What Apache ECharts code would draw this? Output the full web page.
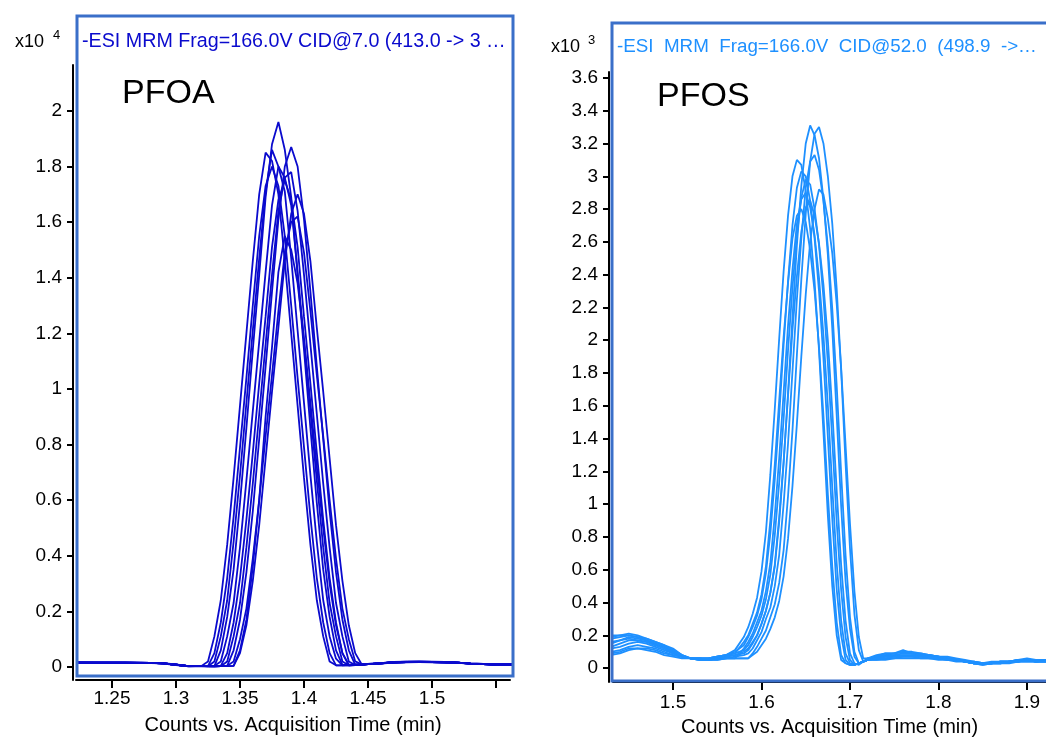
<!DOCTYPE html>
<html><head><meta charset="utf-8">
<script src="https://cdn.jsdelivr.net/npm/echarts@6/dist/echarts.min.js"></script>
<style>html,body{margin:0;padding:0;background:#fff}#c{width:1046px;height:742px}</style>
</head><body><div id="c"></div>
<script>
// ---------- PFOA (left), values in x10^4 counts ----------
const T_PFOA = [1.222,1.24,1.26,1.28,1.29,1.30,1.31,1.32,1.325,1.33,1.335,1.34,1.345,1.35,1.355,1.36,1.365,1.37,1.375,1.38,1.385,1.39,1.395,1.40,1.405,1.41,1.415,1.42,1.425,1.43,1.435,1.44,1.445,1.45,1.46,1.47,1.48,1.49,1.50,1.51,1.52,1.53,1.54,1.55,1.565];
const PFOA_1 = [0.016,0.016,0.015,0.015,0.013,0.008,0.003,0.004, 0.003,0.02,0.11,0.24,0.45,0.69,0.95,1.21,1.47,1.71,1.86,1.80,1.71,1.47,1.21,0.95,0.69,0.45,0.24,0.11,0.03,0.006,0.006,0.007,0.008, 0.010,0.013,0.017,0.018,0.018,0.018,0.017,0.016,0.012,0.010,0.009,0.009];
const PFOA_2 = [0.016,0.016,0.016,0.015,0.013,0.008,0.003,0.004, 0.002,0.003,0.06,0.18,0.35,0.59,0.86,1.14,1.41,1.69,1.88,1.96,1.86,1.69,1.41,1.14,0.86,0.59,0.35,0.18,0.06,0.008,0.006,0.007,0.008, 0.011,0.014,0.018,0.019,0.019,0.018,0.017,0.015,0.012,0.010,0.009,0.008];
const PFOA_3 = [0.015,0.016,0.016,0.015,0.012,0.007,0.002,0.004, 0.003,0.004,0.02,0.11,0.23,0.43,0.67,0.92,1.17,1.42,1.66,1.80,1.76,1.66,1.42,1.17,0.92,0.67,0.43,0.23,0.11,0.02,0.006,0.007,0.009, 0.010,0.013,0.016,0.018,0.019,0.018,0.018,0.016,0.013,0.011,0.009,0.009];
const PFOA_4 = [0.016,0.015,0.016,0.014,0.013,0.008,0.003,0.003, 0.002,0.003,0.004,0.05,0.16,0.32,0.53,0.77,1.02,1.26,1.51,1.68,1.75,1.68,1.51,1.26,1.02,0.77,0.53,0.32,0.16,0.05,0.006,0.008,0.009, 0.010,0.012,0.016,0.017,0.018,0.018,0.017,0.016,0.012,0.010,0.008,0.008];
const PFOA_5 = [0.017,0.016,0.016,0.015,0.014,0.009,0.003,0.004, 0.003,0.002,0.003,0.004,0.06,0.17,0.34,0.56,0.82,1.08,1.35,1.61,1.80,1.87,1.80,1.61,1.35,1.08,0.82,0.56,0.34,0.17,0.06,0.008,0.009, 0.011,0.014,0.017,0.019,0.019,0.019,0.018,0.016,0.013,0.011,0.009,0.009];
const PFOA_6 = [0.016,0.016,0.015,0.015,0.013,0.008,0.002,0.003, 0.002,0.003,0.003,0.02,0.11,0.23,0.43,0.66,0.91,1.16,1.41,1.64,1.76,1.78,1.64,1.41,1.16,0.91,0.66,0.43,0.23,0.11,0.02,0.007,0.008, 0.010,0.013,0.017,0.018,0.018,0.017,0.017,0.015,0.012,0.010,0.009,0.008];
const PFOA_7 = [0.015,0.015,0.016,0.015,0.013,0.008,0.003,0.004, 0.02,0.11,0.24,0.44,0.68,0.94,1.20,1.46,1.70,1.85,1.82,1.70,1.46,1.20,0.94,0.68,0.44,0.24,0.11,0.02,0.006,0.006,0.007,0.008,0.009, 0.010,0.013,0.016,0.018,0.018,0.018,0.017,0.016,0.012,0.010,0.009,0.009];
const PFOA_8 = [0.016,0.016,0.016,0.015,0.013,0.008,0.003,0.004, 0.003,0.002,0.003,0.003,0.004,0.05,0.15,0.31,0.51,0.75,0.99,1.22,1.46,1.63,1.70,1.63,1.46,1.22,0.99,0.75,0.51,0.31,0.15,0.05,0.01, 0.010,0.013,0.017,0.018,0.019,0.018,0.017,0.016,0.012,0.010,0.009,0.009];
const PFOA_9 = [0.016,0.016,0.016,0.015,0.013,0.008,0.003,0.004, 0.003,0.05,0.16,0.32,0.54,0.79,1.04,1.30,1.55,1.73,1.80,1.73,1.55,1.30,1.04,0.79,0.54,0.32,0.16,0.05,0.006,0.006,0.007,0.008,0.009, 0.010,0.013,0.017,0.018,0.018,0.018,0.017,0.016,0.012,0.010,0.009,0.009];
const PFOA_10 = [0.016,0.016,0.015,0.015,0.013,0.008,0.003,0.004, 0.003,0.002,0.003,0.004,0.02,0.10,0.21,0.39,0.60,0.83,1.05,1.28,1.49,1.60,1.62,1.49,1.28,1.05,0.83,0.60,0.39,0.21,0.10,0.02,0.01, 0.010,0.013,0.017,0.018,0.018,0.018,0.017,0.016,0.012,0.010,0.009,0.009];
const PFOA_11 = [0.016,0.016,0.016,0.015,0.013,0.008,0.003,0.004, 0.003,0.002,0.003,0.003,0.004,0.06,0.17,0.36,0.60,0.90,1.15,1.42,1.55,1.50,1.38,1.18,0.95,0.72,0.50,0.30,0.15,0.05,0.008,0.008,0.009, 0.010,0.013,0.017,0.018,0.018,0.018,0.017,0.016,0.012,0.010,0.009,0.009];
const PFOA_XTICKS = [1.25,1.3,1.35,1.4,1.45,1.5,1.55];
const PFOA_XLABELS = [1.25,1.3,1.35,1.4,1.45,1.5];
const PFOA_YTICKS = [0,0.2,0.4,0.6,0.8,1,1.2,1.4,1.6,1.8,2];

// ---------- PFOS (right), values in x10^3 counts ----------
const T_PFOS = [1.43,1.44,1.45,1.46,1.47,1.48,1.49,1.50,1.51,1.52,1.53,1.54,1.55,1.56,1.57,1.58,
  1.585,1.59,1.595,1.60,1.605,1.61,1.615,1.62,1.625,1.63,1.635,1.64,1.645,1.65,1.655,1.66,1.665,1.67,1.675,1.68,1.685,1.69,1.695,1.70,1.705,1.71,1.715,
  1.72,1.73,1.74,1.75,1.76,1.77,1.78,1.79,1.80,1.81,1.82,1.83,1.84,1.85,1.86,1.87,1.88,1.89,1.90,1.91,1.925];
const PFOS_1 = [0.18,0.19,0.20,0.19,0.17,0.15,0.13,0.10,0.07,0.06,0.06,0.05,0.06,0.07,0.08,0.09,
  0.11,0.15,0.20,0.27,0.35,0.46,0.62,0.89,1.25,1.68,2.14,2.58,2.94,3.20,3.31,3.25,3.11,2.86,2.52,2.07,1.54,0.99,0.53,0.24,0.07,0.03,0.04,
  0.05,0.07,0.08,0.09,0.10,0.09,0.08,0.08,0.07,0.06,0.05,0.04,0.03,0.03,0.03,0.04,0.04,0.04,0.05,0.04,0.05];
const PFOS_2 = [0.12,0.13,0.15,0.16,0.15,0.13,0.11,0.09,0.07,0.06,0.05,0.05,0.05,0.06,0.06,0.06,
  0.06,0.09,0.13,0.18,0.23,0.31,0.39,0.52,0.72,1.05,1.45,1.91,2.37,2.77,3.09,3.26,3.30,3.20,3.00,2.71,2.31,1.82,1.25,0.73,0.33,0.11,0.04,
  0.06,0.08,0.09,0.09,0.11,0.09,0.09,0.08,0.07,0.07,0.06,0.05,0.04,0.03,0.03,0.04,0.04,0.05,0.06,0.05,0.05];
const PFOS_3 = [0.20,0.20,0.21,0.20,0.18,0.16,0.14,0.12,0.08,0.06,0.06,0.06,0.07,0.08,0.11,0.19,
  0.25,0.33,0.43,0.59,0.83,1.18,1.58,2.01,2.42,2.76,3.00,3.10,3.07,2.91,2.68,2.36,1.94,1.44,0.93,0.50,0.20,0.05,0.03,0.02,0.02,0.03,0.04,
  0.05,0.06,0.07,0.07,0.07,0.07,0.07,0.07,0.06,0.06,0.05,0.04,0.03,0.02,0.03,0.03,0.04,0.04,0.05,0.04,0.04];
const PFOS_4 = [0.09,0.10,0.12,0.12,0.11,0.10,0.08,0.07,0.06,0.06,0.05,0.05,0.06,0.06,0.07,0.08,
  0.09,0.12,0.17,0.22,0.30,0.37,0.50,0.69,1.00,1.37,1.81,2.25,2.62,2.93,3.09,3.13,3.04,2.85,2.57,2.19,1.72,1.19,0.69,0.31,0.10,0.03,0.04,
  0.05,0.05,0.06,0.06,0.07,0.07,0.06,0.06,0.06,0.05,0.05,0.04,0.03,0.03,0.03,0.04,0.04,0.04,0.04,0.04,0.05];
const PFOS_5 = [0.15,0.17,0.19,0.18,0.17,0.15,0.13,0.11,0.08,0.06,0.06,0.06,0.07,0.08,0.10,0.14,
  0.19,0.25,0.32,0.42,0.58,0.82,1.15,1.54,1.97,2.36,2.70,2.93,3.03,3.00,2.85,2.62,2.30,1.89,1.41,0.91,0.48,0.20,0.05,0.02,0.02,0.03,0.04,
  0.05,0.07,0.08,0.08,0.09,0.09,0.08,0.08,0.07,0.06,0.05,0.04,0.04,0.03,0.03,0.04,0.04,0.05,0.05,0.05,0.05];
const PFOS_6 = [0.10,0.11,0.13,0.14,0.13,0.12,0.10,0.08,0.07,0.06,0.05,0.05,0.05,0.06,0.06,0.06,
  0.06,0.08,0.10,0.14,0.18,0.24,0.31,0.41,0.56,0.79,1.11,1.49,1.90,2.28,2.60,2.80,2.92,2.89,2.74,2.53,2.22,1.83,1.36,0.88,0.47,0.19,0.06,
  0.06,0.06,0.07,0.08,0.08,0.08,0.08,0.07,0.07,0.06,0.05,0.04,0.03,0.03,0.04,0.04,0.04,0.05,0.05,0.04,0.05];
const PFOS_7 = [0.16,0.17,0.18,0.17,0.16,0.14,0.12,0.09,0.07,0.06,0.06,0.05,0.06,0.06,0.06,0.12,
  0.16,0.21,0.28,0.35,0.47,0.64,0.93,1.28,1.68,2.09,2.43,2.71,2.86,2.90,2.81,2.64,2.38,2.03,1.60,1.10,0.64,0.29,0.09,0.03,0.02,0.03,0.04,
  0.05,0.05,0.05,0.06,0.06,0.06,0.06,0.06,0.05,0.05,0.04,0.04,0.03,0.02,0.03,0.03,0.03,0.04,0.04,0.04,0.04];
const PFOS_8 = [0.13,0.15,0.17,0.17,0.16,0.14,0.12,0.10,0.07,0.06,0.05,0.05,0.06,0.07,0.08,0.10,
  0.12,0.16,0.20,0.27,0.35,0.46,0.63,0.92,1.26,1.66,2.06,2.39,2.66,2.81,2.85,2.76,2.59,2.34,2.00,1.57,1.08,0.63,0.29,0.09,0.03,0.02,0.04,
  0.06,0.07,0.09,0.09,0.10,0.10,0.09,0.08,0.07,0.06,0.05,0.04,0.03,0.03,0.03,0.04,0.04,0.05,0.05,0.05,0.05];
const PFOS_9 = [0.08,0.09,0.11,0.12,0.12,0.11,0.09,0.08,0.07,0.06,0.06,0.06,0.07,0.08,0.09,0.11,
  0.14,0.19,0.25,0.32,0.42,0.57,0.81,1.13,1.52,1.94,2.32,2.64,2.87,2.98,2.95,2.80,2.58,2.26,1.86,1.39,0.89,0.48,0.19,0.05,0.02,0.03,0.04,
  0.05,0.06,0.07,0.07,0.08,0.08,0.07,0.07,0.06,0.06,0.05,0.04,0.04,0.03,0.03,0.03,0.04,0.04,0.05,0.04,0.04];
const PFOS_10 = [0.19,0.20,0.20,0.19,0.18,0.16,0.14,0.11,0.08,0.06,0.06,0.06,0.07,0.08,0.09,0.16,
  0.20,0.27,0.34,0.45,0.62,0.90,1.24,1.63,2.02,2.35,2.62,2.76,2.80,2.72,2.55,2.30,1.96,1.54,1.06,0.62,0.28,0.08,0.03,0.02,0.02,0.03,0.04,
  0.05,0.06,0.06,0.07,0.07,0.07,0.07,0.06,0.06,0.05,0.05,0.04,0.03,0.03,0.03,0.03,0.04,0.04,0.05,0.04,0.04];
const PFOS_XTICKS = [1.5,1.6,1.7,1.8,1.9];
const PFOS_YTICKS = [0,0.2,0.4,0.6,0.8,1,1.2,1.4,1.6,1.8,2,2.2,2.4,2.6,2.8,3,3.2,3.4,3.6];

const PFOA_SERIES = [PFOA_1,PFOA_2,PFOA_3,PFOA_4,PFOA_5,PFOA_6,PFOA_7,PFOA_8,PFOA_9,PFOA_10,PFOA_11];
const PFOS_SERIES = [PFOS_1,PFOS_2,PFOS_3,PFOS_4,PFOS_5,PFOS_6,PFOS_7,PFOS_8,PFOS_9,PFOS_10];

const FONT = 'Liberation Sans, Arial, sans-serif';
const fmt = v => String(+(+v).toFixed(2));
const PFOA_COLOR = '#0a0acd';
const PFOS_COLOR = '#1e90ff';
const BOX_COLOR = '#3a6fc9';
const FS = 19;

function xAxisCfg(grid, min, max, ticks, labels, margin, nameGap) {
  return {
    type: 'value', gridIndex: grid, min: min, max: max,
    axisLine: { show: true, onZero: false, lineStyle: { color: '#000', width: 2 } },
    axisTick: { show: true, customValues: ticks, length: 8, lineStyle: { color: '#000', width: 2 } },
    axisLabel: { customValues: labels, formatter: fmt, margin: margin, color: '#000', fontSize: FS, fontFamily: FONT },
    splitLine: { show: false },
    name: 'Counts vs. Acquisition Time (min)', nameLocation: 'middle', nameGap: nameGap,
    nameTextStyle: { color: '#000', fontSize: 20, fontFamily: FONT }
  };
}
function yAxisCfg(grid, min, max, ticks, offset) {
  return {
    type: 'value', gridIndex: grid, min: min, max: max, offset: offset,
    axisLine: { show: true, onZero: false, lineStyle: { color: '#000', width: 2 } },
    axisTick: { show: true, customValues: ticks, length: 6, lineStyle: { color: '#000', width: 2 } },
    axisLabel: { customValues: ticks, formatter: fmt, margin: 11, color: '#000', fontSize: FS, fontFamily: FONT },
    splitLine: { show: false }
  };
}

const series = [];
PFOA_SERIES.forEach(arr => series.push({
  type: 'line', xAxisIndex: 0, yAxisIndex: 0, symbol: 'none', clip: true,
  lineStyle: { color: PFOA_COLOR, width: 1.8 }, itemStyle: { color: PFOA_COLOR },
  data: T_PFOA.map((t, i) => [t, arr[i]])
}));
PFOS_SERIES.forEach(arr => series.push({
  type: 'line', xAxisIndex: 1, yAxisIndex: 1, symbol: 'none', clip: true,
  lineStyle: { color: PFOS_COLOR, width: 1.8 }, itemStyle: { color: PFOS_COLOR },
  data: T_PFOS.map((t, i) => [t, arr[i]])
}));

const chart = echarts.init(document.getElementById('c'), null, { renderer: 'canvas' });
chart.setOption({
  animation: false,
  backgroundColor: '#fff',
  grid: [
    { left: 76, top: 65, width: 434, height: 615 },
    { left: 613, top: 72, width: 433, height: 615 }
  ],
  xAxis: [
    xAxisCfg(0, 1.2219, 1.5609, PFOA_XTICKS, PFOA_XLABELS, 9, 35),
    xAxisCfg(1, 1.4322, 1.9215, PFOS_XTICKS, PFOS_XTICKS, 11, 34)
  ],
  yAxis: [
    yAxisCfg(0, -0.0468, 2.165, PFOA_YTICKS, 3),
    yAxisCfg(1, -0.085, 3.636, PFOS_YTICKS, 4)
  ],
  series: series,
  graphic: [
    { type: 'rect', shape: { x: 77, y: 16, width: 436, height: 660 }, style: { fill: 'none', stroke: BOX_COLOR, lineWidth: 3 }, z: 10 },
    { type: 'rect', shape: { x: 612, y: 23, width: 440, height: 658 }, style: { fill: 'none', stroke: BOX_COLOR, lineWidth: 3 }, z: 10 },
    { type: 'text', left: 82, top: 32, style: { text: '-ESI MRM Frag=166.0V CID@7.0 (413.0 -> 3 …', fill: PFOA_COLOR, font: '19.7px ' + FONT }, z: 11 },
    { type: 'text', left: 617, top: 37, style: { text: '-ESI  MRM  Frag=166.0V  CID@52.0  (498.9  ->…', fill: PFOS_COLOR, font: '18.8px ' + FONT }, z: 11 },
    { type: 'text', left: 122, top: 77, style: { text: 'PFOA', fill: '#000', font: '34px ' + FONT }, z: 11 },
    { type: 'text', left: 657, top: 80, style: { text: 'PFOS', fill: '#000', font: '34px ' + FONT }, z: 11 },
    { type: 'text', left: 15, top: 33, style: { text: 'x10', fill: '#000', font: '18px ' + FONT }, z: 11 },
    { type: 'text', left: 53, top: 29, style: { text: '4', fill: '#000', font: '13px ' + FONT }, z: 11 },
    { type: 'text', left: 551, top: 38, style: { text: 'x10', fill: '#000', font: '18px ' + FONT }, z: 11 },
    { type: 'text', left: 588, top: 34, style: { text: '3', fill: '#000', font: '13px ' + FONT }, z: 11 }
  ]
});
</script>
</body></html>
